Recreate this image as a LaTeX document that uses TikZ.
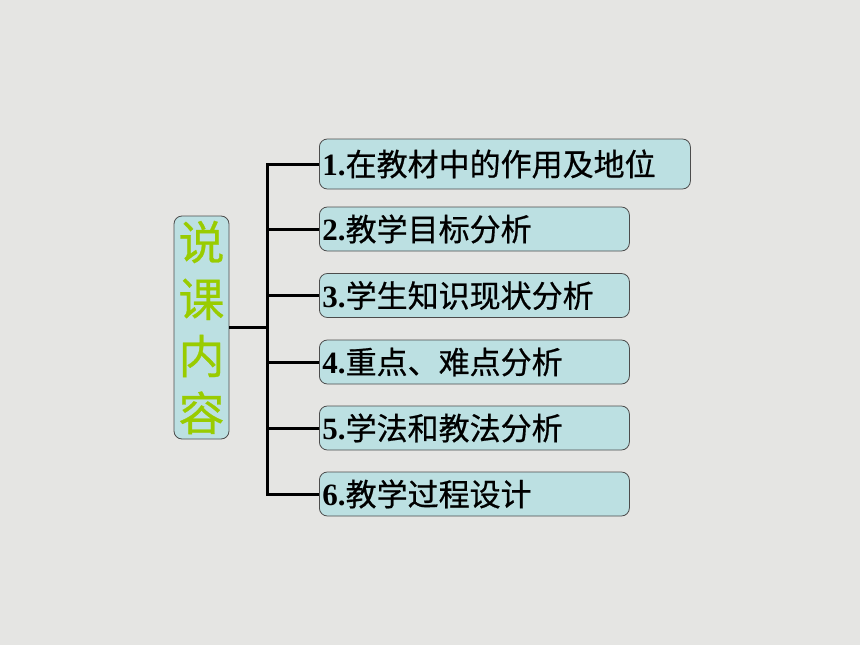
\documentclass[tikz,border=0pt]{standalone}
\usepackage{fontspec}
\usepackage{xcolor}
\usepackage{tikz}
\newfontfamily\cjk[FakeBold=0.6]{Noto Sans CJK SC}
\newfontfamily\numfont{Liberation Serif}
\definecolor{bgGray}{HTML}{E5E5E3}
\definecolor{boxTeal}{HTML}{BCE0E2}
\definecolor{titleGreen}{HTML}{99CC00}
\newcommand{\itemtext}[2]{{\numfont\bfseries #1.}{\cjk #2}}

\begin{document}
\begin{tikzpicture}[x=1pt,y=-1pt]
\tikzstyle{every node}+=[inner sep=0pt]
\tikzstyle{itembox}=[draw=black!70, fill=boxTeal, rounded corners=8pt, line width=0.8pt,
  minimum height=44pt, inner xsep=3pt, align=left, anchor=west,
  font=\fontsize{31}{34}\selectfont]
\fill [bgGray] (0,0) rectangle (860,645);
\useasboundingbox (0,0) rectangle (860,645);
% left title box
\node [draw=black!70, fill=boxTeal, rounded corners=8pt, line width=0.8pt,
  minimum width=55pt, minimum height=223pt, align=center,
  text=titleGreen, font=\fontsize{46}{57}\selectfont\cjk] (title) at (201.5,327.5)
  {说\\课\\内\\容};
% item boxes
\node [itembox, minimum height=50pt, text width=365pt] (item1) at (319,164) {\itemtext{1}{在教材中的作用及地位}};
\node [itembox, text width=304pt] (item2) at (319,229) {\itemtext{2}{教学目标分析}};
\node [itembox, text width=304pt] (item3) at (319,295.5) {\itemtext{3}{学生知识现状分析}};
\node [itembox, text width=304pt] (item4) at (319,362) {\itemtext{4}{重点、难点分析}};
\node [itembox, text width=304pt] (item5) at (319,428) {\itemtext{5}{学法和教法分析}};
\node [itembox, text width=304pt] (item6) at (319,494) {\itemtext{6}{教学过程设计}};
% connectors
\coordinate (trunkTop) at (267,164);
\coordinate (trunkBot) at (267,494);
\draw [black, line width=3pt, line cap=rect] (trunkTop) -- (trunkBot);
\draw [black, line width=3pt] (title.east) -- (title.east -| trunkTop);
\foreach \i in {1,...,6}
  \draw [black, line width=3pt] (item\i.west -| trunkTop) -- (item\i.west);
\end{tikzpicture}
\end{document}
